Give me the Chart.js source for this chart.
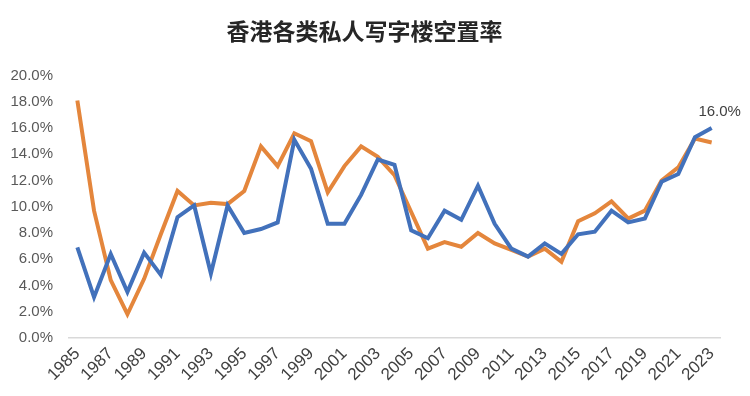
<!DOCTYPE html>
<html>
<head>
<meta charset="utf-8">
<script src="https://cdn.jsdelivr.net/npm/chart.js@4/dist/chart.umd.min.js"></script>
<style>
    html, body { margin: 0; padding: 0; background: #ffffff; }
    #wrap { width: 750px; height: 396px; }
</style>
</head>
<body>
<div id="wrap"><canvas id="vacancy-chart" width="750" height="396"></canvas></div>
<script>
const years = [
    '1985', '1986', '1987', '1988', '1989', '1990', '1991', '1992', '1993', '1994',
    '1995', '1996', '1997', '1998', '1999', '2000', '2001', '2002', '2003', '2004',
    '2005', '2006', '2007', '2008', '2009', '2010', '2011', '2012', '2013', '2014',
    '2015', '2016', '2017', '2018', '2019', '2020', '2021', '2022', '2023'
];
// blue series (vacancy %, last value labelled 16.0%)
const blueValues = [
    6.9, 3.1, 6.4, 3.5, 6.5, 4.8, 9.2, 10.1, 4.9, 10.1,
    8.0, 8.3, 8.8, 15.1, 12.9, 8.7, 8.7, 10.9, 13.6, 13.2,
    8.2, 7.6, 9.7, 9.0, 11.6, 8.7, 6.8, 6.2, 7.2, 6.4,
    7.9, 8.1, 9.7, 8.8, 9.1, 11.9, 12.5, 15.3, 16.0
];
// orange series
const orangeValues = [
    18.1, 9.7, 4.4, 1.8, 4.5, 7.9, 11.2, 10.1, 10.3, 10.2,
    11.2, 14.6, 13.1, 15.6, 15.0, 11.1, 13.1, 14.6, 13.8, 12.4,
    9.6, 6.8, 7.3, 6.95, 8.0, 7.2, 6.7, 6.2, 6.8, 5.8,
    8.9, 9.5, 10.4, 9.1, 9.7, 12.0, 13.0, 15.2, 14.9
];
const yTicks = [0, 2, 4, 6, 8, 10, 12, 14, 16, 18, 20];

const lastLabel = {
    id: 'lastLabel',
    afterDatasetsDraw(chart) {
        const meta = chart.getDatasetMeta(0);
        const pt = meta.data[meta.data.length - 1];
        const c = chart.ctx;
        c.save();
        c.font = '15px "Liberation Sans", Arial, sans-serif';
        c.fillStyle = '#404040';
        c.textAlign = 'center';
        c.textBaseline = 'middle';
        c.fillText(blueValues[blueValues.length - 1].toFixed(1) + '%', pt.x + 8, pt.y - 16);
        c.restore();
    }
};

const ctx = document.getElementById('vacancy-chart').getContext('2d');
new Chart(ctx, {
    type: 'line',
    data: {
        labels: years,
        datasets: [{
            label: 'blue',
            data: blueValues,
            borderColor: '#4271bb',
            borderWidth: 4,
            pointRadius: 0,
            tension: 0
        }, {
            label: 'orange',
            data: orangeValues,
            borderColor: '#e4863c',
            borderWidth: 4,
            pointRadius: 0,
            tension: 0
        }]
    },
    options: {
        responsive: false,
        animation: false,
        layout: { padding: { left: 9, right: 30, top: 0, bottom: 5 } },
        plugins: {
            legend: { display: false },
            tooltip: { enabled: false },
            title: {
                display: true,
                text: '香港各类私人写字楼空置率',
                color: '#262626',
                font: { family: '"Noto Sans CJK SC", sans-serif', size: 23, weight: 'bold' },
                padding: { top: 17, bottom: 31 }
            }
        },
        scales: {
            x: {
                offset: true,
                grid: { display: false, drawTicks: false },
                border: { display: true, color: '#d9d9d9', width: 1.5 },
                afterFit: function (axis) {
                    axis.paddingLeft = 0;
                    axis.paddingRight = 0;
                },
                ticks: {
                    autoSkip: false,
                    maxRotation: 45,
                    minRotation: 45,
                    padding: 6,
                    color: '#404040',
                    font: { family: '"Liberation Sans", Arial, sans-serif', size: 17 },
                    callback: function (value, index) {
                        return index % 2 === 0 ? years[index] : '';
                    }
                }
            },
            y: {
                min: 0,
                max: 20,
                grid: { display: false, drawTicks: false },
                border: { display: false },
                afterBuildTicks: function (axis) {
                    axis.ticks = yTicks.map(v => ({ value: v }));
                },
                afterFit: function (axis) {
                    axis.width = 60;
                },
                ticks: {
                    padding: 16,
                    color: '#595959',
                    font: { family: '"Liberation Sans", Arial, sans-serif', size: 15 },
                    callback: function (value) {
                        return value.toFixed(1) + '%';
                    }
                }
            }
        }
    },
    plugins: [lastLabel]
});
</script>
</body>
</html>
